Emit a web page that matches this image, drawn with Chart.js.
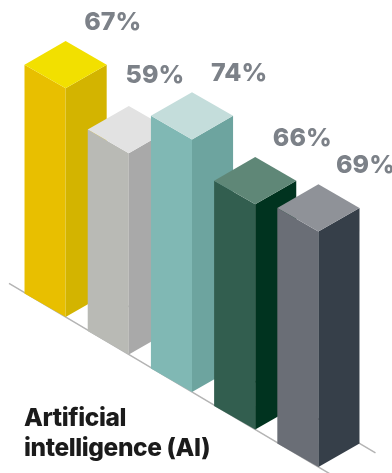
<!DOCTYPE html>
<html lang="en">
<head>
<meta charset="UTF-8">
<title>Artificial intelligence (AI)</title>
<script src="https://cdn.jsdelivr.net/npm/chart.js"></script>
<style>
  html, body { margin: 0; padding: 0; background: #fff; }
  #wrap { position: relative; width: 392px; height: 473px; overflow: hidden; }
  #chart { position: absolute; left: 0; top: 0; }
  .titulo {
    position: absolute; left: 24px; top: 402px;
    font-family: Inter, "Open Sans", sans-serif; font-weight: 800;
    font-size: 24.5px; line-height: 30px; color: #1b1b1b; letter-spacing: -0.4px;
  }
</style>
</head>
<body>
<div id="wrap">
  <canvas id="chart" width="392" height="473"></canvas>
  <div class="titulo">Artificial<br>intelligence (AI)</div>
</div>

<script>
// dados
const categorias = ['A', 'B', 'C', 'D', 'E'];
const valores = [67, 59, 74, 66, 69];
const rotulos = ['67%', '59%', '74%', '66%', '69%'];

// cores de cada prisma: frente, lado direito, topo
const corFrente = ['#e8bf00', '#b9bab5', '#80b8b4', '#325e4f', '#6a6e76'];
const corLado   = ['#d3b400', '#a9a9a9', '#6da49f', '#00331f', '#363f49'];
const corTopo   = ['#f2e000', '#e2e2e2', '#c4dddb', '#5f8777', '#8f9298'];

const DESCIDA = 37.5;   // cada barra desce um pouco em relacao a anterior
const INCL = 0.575;     // inclinacao isometrica das faces

const prismas = {
  id: 'prismas',
  afterDatasetsDraw(chart) {
    const ctx = chart.ctx;
    const barras = chart.getDatasetMeta(0).data;
    const h = barras[0].width / 2;
    const d = h * INCL;

    ctx.save();

    // linhas do chao (atras das barras)
    const b0 = barras[0], bN = barras[barras.length - 1];
    const nUlt = barras.length - 1;
    const yb0 = b0.base, ybN = bN.base + nUlt * DESCIDA;
    const m = (ybN - yb0) / (bN.x - b0.x);
    ctx.strokeStyle = '#b4b4b4';
    ctx.lineWidth = 1.5;
    ctx.beginPath();
    ctx.moveTo(9, yb0 + (9 - b0.x) * m);
    ctx.lineTo(bN.x + 14, ybN + 14 * m);
    ctx.moveTo(b0.x + h, yb0 - d);
    ctx.lineTo(bN.x + h + 16, ybN - d + 16 * m);
    ctx.stroke();

    barras.forEach((b, i) => {
      const fx = b.x;
      const ty = b.y + i * DESCIDA;
      const by = b.base + i * DESCIDA;

      // face da frente (esquerda)
      ctx.fillStyle = corFrente[i];
      ctx.beginPath();
      ctx.moveTo(fx - h, ty - d);
      ctx.lineTo(fx, ty);
      ctx.lineTo(fx, by);
      ctx.lineTo(fx - h, by - d);
      ctx.closePath();
      ctx.fill();

      // face lateral (direita)
      ctx.fillStyle = corLado[i];
      ctx.beginPath();
      ctx.moveTo(fx, ty);
      ctx.lineTo(fx + h, ty - d);
      ctx.lineTo(fx + h, by - d);
      ctx.lineTo(fx, by);
      ctx.closePath();
      ctx.fill();

      // topo
      ctx.fillStyle = corTopo[i];
      ctx.beginPath();
      ctx.moveTo(fx - h, ty - d);
      ctx.lineTo(fx, ty - 2 * d);
      ctx.lineTo(fx + h, ty - d);
      ctx.lineTo(fx, ty);
      ctx.closePath();
      ctx.fill();
    });

    // rotulos de porcentagem
    ctx.fillStyle = '#7c8188';
    ctx.font = '800 25px Inter, "Open Sans", sans-serif';
    ctx.textAlign = 'center';
    ctx.textBaseline = 'middle';
    barras.forEach((b, i) => {
      let lx = b.x + h + 6;
      let ly = b.y + i * DESCIDA - 2 * d - 19;
      if (i === 1) { lx -= 21; ly -= 11; } // afastado do vizinho mais alto
      ctx.fillText(rotulos[i], lx, ly);
    });

    ctx.restore();
  }
};

new Chart(document.getElementById('chart'), {
  type: 'bar',
  data: {
    labels: categorias,
    datasets: [{
      data: valores,
      backgroundColor: 'rgba(0,0,0,0)',
      borderWidth: 0,
      barPercentage: 1.3,
      categoryPercentage: 1
    }]
  },
  options: {
    responsive: false,
    animation: false,
    layout: { padding: { top: 44, bottom: 156, left: 34, right: 42 } },
    plugins: {
      legend: { display: false },
      tooltip: { enabled: false },
      title: { display: false }
    },
    scales: {
      x: { display: false },
      y: { display: false, min: 0, max: 80 }
    }
  },
  plugins: [prismas]
});
</script>
</body>
</html>
